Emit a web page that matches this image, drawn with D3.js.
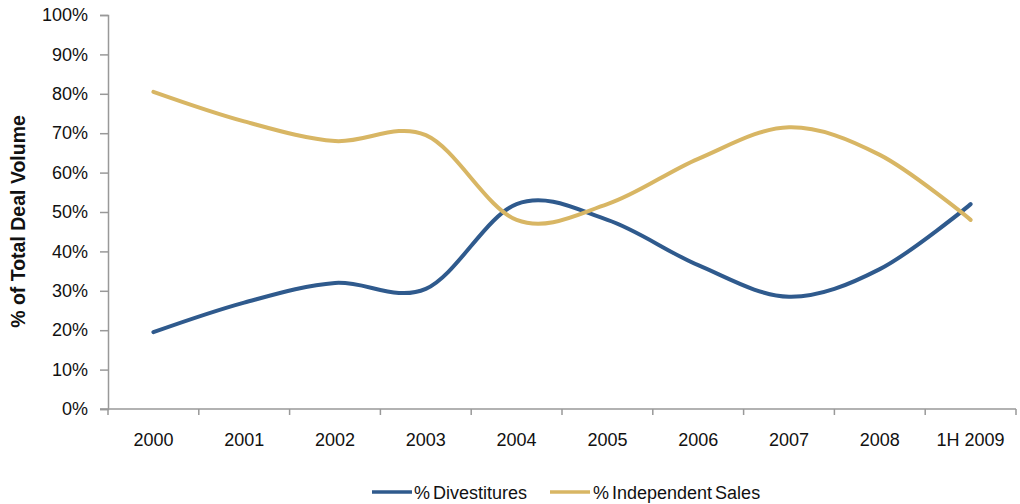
<!DOCTYPE html>
<html>
<head>
<meta charset="utf-8">
<script src="https://cdn.jsdelivr.net/npm/d3@7"></script>
<style>
  html, body { margin: 0; padding: 0; background: #fff; }
  svg { display: block; font-family: "Liberation Sans", Arial, sans-serif; }
</style>
</head>
<body>
<svg id="chart" width="1020" height="504"></svg>
<script>
const categories = ["2000", "2001", "2002", "2003", "2004", "2005", "2006", "2007", "2008", "1H 2009"];
const divestitures = [19.5, 27, 32, 30.5, 52, 48, 36.5, 28.5, 35.5, 52];
const independentSales = [80.5, 73, 68, 69.5, 48, 52, 63.5, 71.5, 64.5, 48];
const yTicks = [0, 10, 20, 30, 40, 50, 60, 70, 80, 90, 100];
const seriesNames = ["% Divestitures", "% Independent Sales"];
const seriesColors = ["#2F5A8D", "#D8B664"];

(function () {
const svg = d3.select("#chart");
const pLeft = 108, pRight = 1016, pTop = 15, pBottom = 409;

const x = d3.scaleBand().domain(categories).range([pLeft, pRight]).padding(0);
const y = d3.scaleLinear().domain([0, 100]).range([pBottom, pTop]);

const axisColor = "#999999";

// Y axis
const yAxis = svg.append("g").attr("transform", `translate(${pLeft},0)`)
  .call(d3.axisLeft(y).tickValues(yTicks).tickSize(8).tickPadding(12).tickFormat(d => d + "%"));
yAxis.select(".domain").attr("stroke", axisColor).attr("stroke-width", 1.5);
yAxis.selectAll(".tick line").attr("stroke", axisColor).attr("stroke-width", 1.5);
yAxis.selectAll(".tick text").attr("font-size", 18).attr("fill", "#111")
  .attr("font-family", "'Liberation Sans', Arial, sans-serif");

// X axis
const xAxis = svg.append("g").attr("transform", `translate(0,${pBottom})`)
  .call(d3.axisBottom(x).tickSize(0).tickPadding(24));
xAxis.select(".domain").attr("stroke", axisColor).attr("stroke-width", 1.5).attr("d", `M${pLeft - 8},0H${pRight}`);
xAxis.selectAll(".tick text").attr("font-size", 18).attr("fill", "#111")
  .attr("font-family", "'Liberation Sans', Arial, sans-serif");
// boundary ticks between categories
const boundaries = categories.map(c => x(c)).concat([x(categories[categories.length - 1]) + x.bandwidth()]);
svg.append("g").selectAll("line").data(boundaries).join("line")
  .attr("x1", d => d).attr("x2", d => d)
  .attr("y1", pBottom).attr("y2", pBottom + 6)
  .attr("stroke", axisColor).attr("stroke-width", 1.5);

// Y title
svg.append("text")
  .attr("transform", `translate(25,${(113 + 330) / 2}) rotate(-90)`)
  .attr("text-anchor", "middle")
  .attr("font-size", 19.5).attr("font-weight", "bold").attr("fill", "#111")
  .text("% of Total Deal Volume");

// Lines
const line = d3.line()
  .x((d, i) => x(categories[i]) + x.bandwidth() / 2)
  .y(d => y(d))
  .curve(d3.curveCardinal.tension(0));

[divestitures, independentSales].forEach((s, k) => {
  svg.append("path").datum(s)
    .attr("d", line)
    .attr("fill", "none")
    .attr("stroke", seriesColors[k])
    .attr("stroke-width", 4)
    .attr("stroke-linecap", "round")
    .attr("stroke-linejoin", "round");
});

// Legend
const legendItems = [{x: 372, tx: 414}, {x: 550, tx: 593}];
legendItems.forEach((it, k) => {
  svg.append("line").attr("x1", it.x).attr("x2", it.x + 40)
    .attr("y1", 492).attr("y2", 492)
    .attr("stroke", seriesColors[k]).attr("stroke-width", 3.5);
  svg.append("text").attr("x", it.tx).attr("y", 498.5)
    .attr("font-size", 18).attr("fill", "#111")
    .attr("word-spacing", "-2px")
    .text(seriesNames[k]);
});
})();
</script>
</body>
</html>
